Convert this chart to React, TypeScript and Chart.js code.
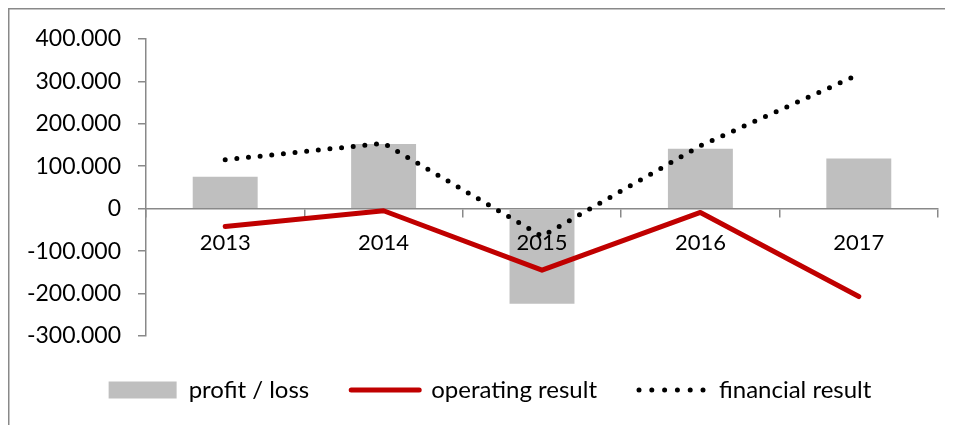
import React, { useEffect, useRef } from "react";
import { Chart, registerables } from "chart.js";

Chart.register(...registerables);

const categories = ["2013", "2014", "2015", "2016", "2017"];
const profitLoss = [75000, 152000, -224000, 141000, 118000];
const operatingResult = [-42000, -5000, -145000, -9000, -207000];
const financialResult = [115000, 154000, -65000, 148000, 316000];
const yTicks = [-300000, -200000, -100000, 0, 100000, 200000, 300000, 400000];

const FONT = "Lato, 'Open Sans', sans-serif";
const GRAY = "#898989";
const LEGEND_SHIFT = 17;

function fmt(v: number): string {
  if (v === 0) return "0";
  const neg = v < 0;
  const s = Math.abs(v).toString().replace(/\B(?=(\d{3})+(?!\d))/g, ".");
  return (neg ? "-" : "") + s;
}

const borderPlugin = {
  id: "outerBorder",
  beforeDraw(chart: any) {
    const { ctx, width, height } = chart;
    ctx.save();
    ctx.strokeStyle = GRAY;
    ctx.lineWidth = 1.5;
    ctx.beginPath();
    ctx.moveTo(0.75, height);
    ctx.lineTo(0.75, 0.75);
    ctx.lineTo(width, 0.75);
    ctx.stroke();
    ctx.restore();
  },
};

const legendShiftPlugin = {
  id: "legendShift",
  afterLayout(chart: any) {
    if (chart.legend) {
      chart.legend.left += LEGEND_SHIFT;
      chart.legend.right += LEGEND_SHIFT;
    }
  },
};

export default function App() {
  const ref = useRef<HTMLCanvasElement>(null);

  useEffect(() => {
    if (!ref.current) return;
    const chart = new Chart(ref.current, {
      type: "bar",
      data: {
        labels: categories,
        datasets: [
          {
            type: "bar",
            label: "profit / loss",
            data: profitLoss,
            backgroundColor: "#BFBFBF",
            borderWidth: 0,
            categoryPercentage: 1,
            barPercentage: 0.41,
            order: 3,
          },
          {
            type: "line",
            label: "operating result",
            data: operatingResult,
            borderColor: "#C00000",
            backgroundColor: "#C00000",
            borderWidth: 5,
            pointRadius: 0,
            borderCapStyle: "round",
            borderJoinStyle: "round",
            tension: 0,
            order: 2,
          },
          {
            type: "line",
            label: "financial result",
            data: financialResult,
            borderColor: "#000000",
            backgroundColor: "#000000",
            borderWidth: 5,
            borderDash: [0, 11.7],
            borderCapStyle: "round",
            pointRadius: 0,
            tension: 0,
            order: 1,
          },
        ],
      } as any,
      options: {
        animation: false,
        responsive: false,
        maintainAspectRatio: false,
        layout: { padding: { left: 0, right: 15, top: 30, bottom: 13 } },
        plugins: {
          tooltip: { enabled: false },
          legend: {
            position: "bottom",
            labels: {
              usePointStyle: true,
              pointStyleWidth: 68,
              boxHeight: 17,
              padding: 42,
              color: "#000",
              font: { family: FONT, size: 24 },
              generateLabels: () => [
                {
                  text: "profit / loss",
                  fillStyle: "#BFBFBF",
                  strokeStyle: "#BFBFBF",
                  lineWidth: 0,
                  pointStyle: "rect",
                  datasetIndex: 0,
                  hidden: false,
                  fontColor: "#000",
                },
                {
                  text: "operating result",
                  fillStyle: "#C00000",
                  strokeStyle: "#C00000",
                  lineWidth: 5,
                  lineCap: "round",
                  pointStyle: "line",
                  datasetIndex: 1,
                  hidden: false,
                  fontColor: "#000",
                },
                {
                  text: "financial result",
                  fillStyle: "#000",
                  strokeStyle: "#000",
                  lineWidth: 5,
                  lineCap: "round",
                  lineDash: [0, 12.8],
                  pointStyle: "line",
                  datasetIndex: 2,
                  hidden: false,
                  fontColor: "#000",
                },
              ],
            },
          },
        },
        scales: {
          x: {
            position: { y: 0 } as any,
            offset: true,
            grid: {
              offset: true,
              drawOnChartArea: false,
              drawTicks: true,
              tickLength: 8,
              color: GRAY,
              lineWidth: 1.5,
            },
            border: { display: true, color: GRAY, width: 1.5 },
            ticks: {
              z: 1,
              color: "#000",
              font: { family: FONT, size: 22 },
              padding: 13,
              maxRotation: 0,
              autoSkip: false,
            },
          },
          y: {
            min: -300000,
            max: 400000,
            afterFit: (scale: any) => {
              scale.width = 138;
            },
            afterBuildTicks: (scale: any) => {
              scale.ticks = yTicks.map((v) => ({ value: v }));
            },
            grid: {
              drawOnChartArea: false,
              drawTicks: true,
              tickLength: 8,
              color: GRAY,
              lineWidth: 1.5,
            },
            border: { display: true, color: GRAY, width: 1.5 },
            ticks: {
              color: "#000",
              font: { family: FONT, size: 23 },
              padding: 17,
              callback: (v: any) => fmt(Number(v)),
            },
          },
        },
      } as any,
      plugins: [borderPlugin, legendShiftPlugin],
    });
    return () => chart.destroy();
  }, []);

  return (
    <div style={{ width: 945, height: 417, overflow: "hidden" }}>
      <canvas ref={ref} width={945} height={417} style={{ display: "block" }} />
    </div>
  );
}
